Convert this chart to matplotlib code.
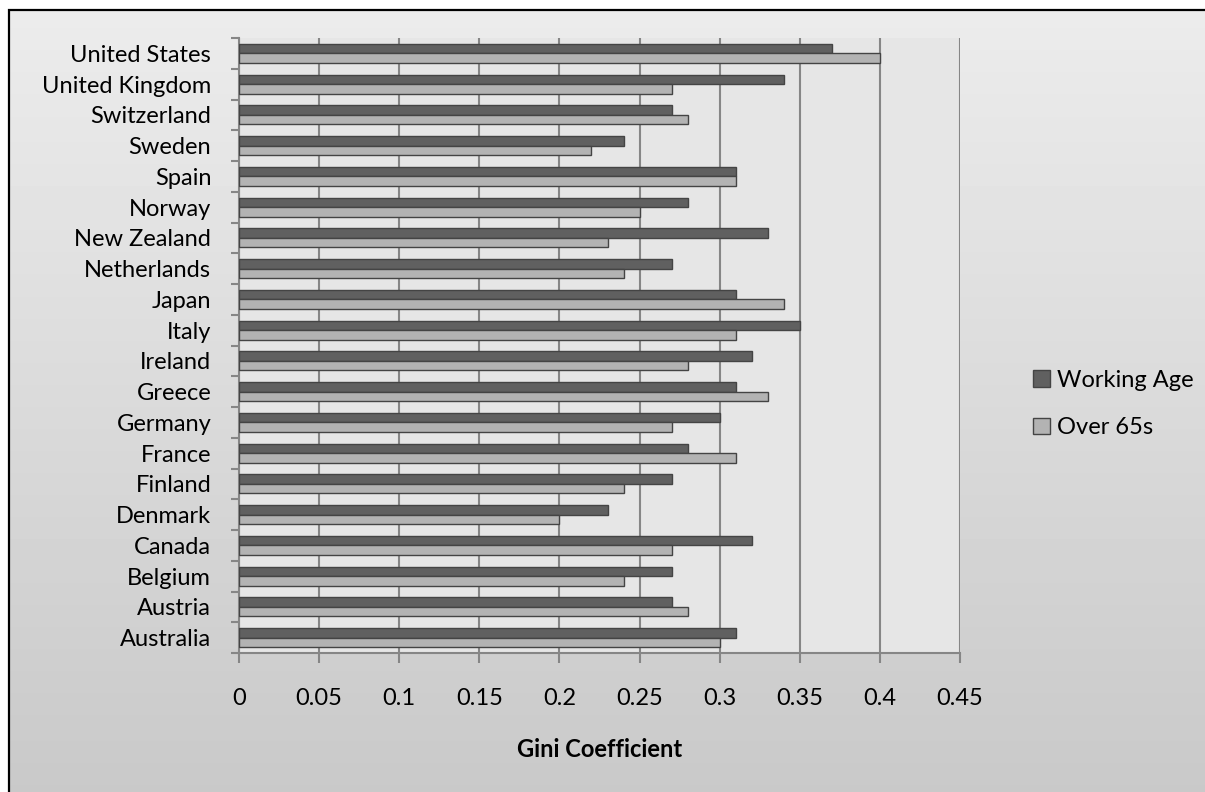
import numpy as np
import matplotlib.pyplot as plt
from matplotlib.patches import Rectangle

plt.rcParams['font.family'] = ['Lato', 'DejaVu Sans']

# Gini coefficients by country (bottom to top)
countries = ['Australia', 'Austria', 'Belgium', 'Canada', 'Denmark', 'Finland',
             'France', 'Germany', 'Greece', 'Ireland', 'Italy', 'Japan',
             'Netherlands', 'New Zealand', 'Norway', 'Spain', 'Sweden',
             'Switzerland', 'United Kingdom', 'United States']
working_age = [0.31, 0.27, 0.27, 0.32, 0.23, 0.27, 0.28, 0.30, 0.31, 0.32,
               0.35, 0.31, 0.27, 0.33, 0.28, 0.31, 0.24, 0.27, 0.34, 0.37]
over_65 = [0.30, 0.28, 0.24, 0.27, 0.20, 0.24, 0.31, 0.27, 0.33, 0.28,
           0.31, 0.34, 0.24, 0.23, 0.25, 0.31, 0.22, 0.28, 0.27, 0.40]
xticks = [0, 0.05, 0.1, 0.15, 0.2, 0.25, 0.3, 0.35, 0.4, 0.45]

fig = plt.figure(figsize=(12.05, 7.92), dpi=100)

# gradient background for the chart area
bg = fig.add_axes([0, 0, 1, 1], zorder=-10)
grad = np.linspace(0.925, 0.76, 256).reshape(-1, 1)
bg.imshow(grad, cmap='gray', vmin=0, vmax=1, aspect='auto',
          extent=[9 / 1205, 1.2, -0.2, 1 - 10 / 792])
bg.add_patch(Rectangle((9 / 1205, -0.2), 1.5, 1 - 10 / 792 + 0.2,
                       fill=False, edgecolor='black', linewidth=1.6))
bg.set_xlim(0, 1)
bg.set_ylim(0, 1)
bg.axis('off')

ax = fig.add_axes([239 / 1205, 1 - 653 / 792, (960 - 239) / 1205, (653 - 38) / 792])
ax.set_facecolor('#e6e6e6')

y = np.arange(len(countries))
h = 0.31
ax.barh(y + h / 2, working_age, height=h, color='#606060', edgecolor='#444444',
        linewidth=1, label='Working Age', zorder=3)
ax.barh(y - h / 2, over_65, height=h, color='#b3b3b3', edgecolor='#444444',
        linewidth=1, label='Over 65s', zorder=3)

ax.set_xlim(0, 0.45)
ax.set_ylim(-0.5, len(countries) - 0.5)
ax.set_xticks(xticks)
ax.set_xticklabels([f'{v:g}' for v in xticks])
ax.set_yticks(y)
ax.set_yticklabels(countries)
ax.set_yticks(np.arange(len(countries) + 1) - 0.5, minor=True)

ax.grid(axis='x', color='#868686', linewidth=1.5, zorder=0)
ax.set_axisbelow(True)
for s in ['top', 'right']:
    ax.spines[s].set_visible(False)
for s in ['left', 'bottom']:
    ax.spines[s].set_color('#868686')
    ax.spines[s].set_linewidth(1.5)

ax.tick_params(axis='x', length=7, width=1.5, color='#868686', pad=18, labelsize=17)
ax.tick_params(axis='y', which='major', length=0, pad=20, labelsize=17)
ax.tick_params(axis='y', which='minor', length=6, width=1.5, color='#868686')

ax.set_xlabel('Gini Coefficient', fontsize=17, fontweight='bold', labelpad=21)

fig.legend(loc='center left', bbox_to_anchor=(1024 / 1205, 1 - 404 / 792),
           frameon=False, fontsize=17, handlelength=0.68, handleheight=0.68,
           handletextpad=0.3, labelspacing=1.12, borderaxespad=0)

fig.savefig('out.png', dpi=100)
